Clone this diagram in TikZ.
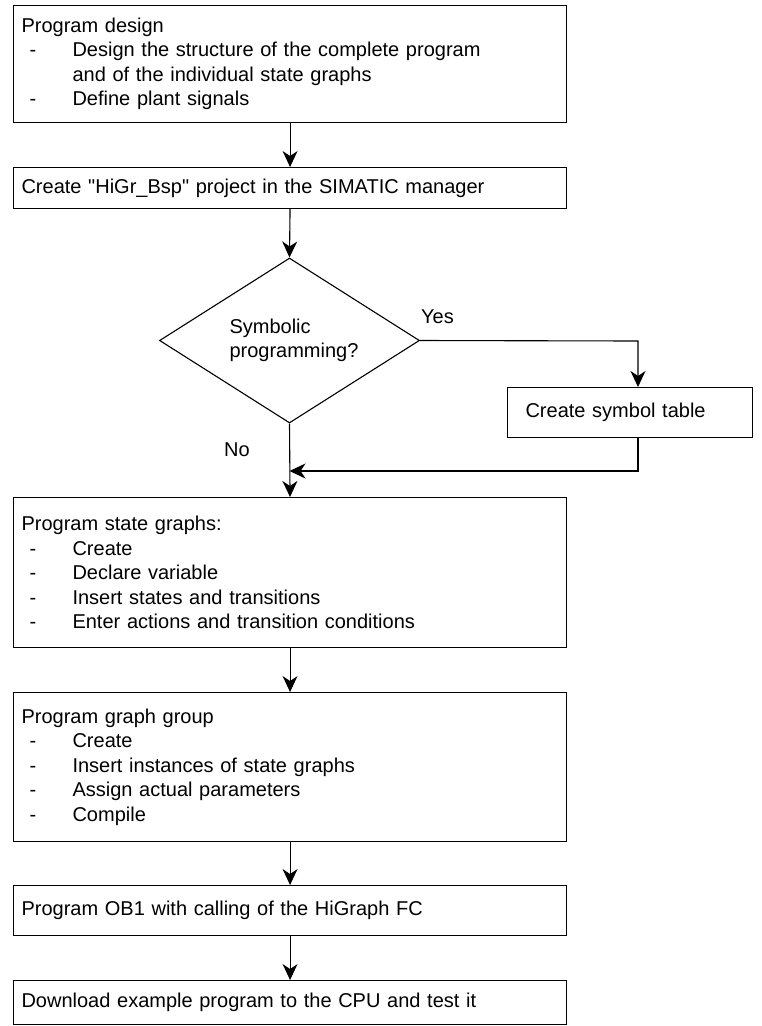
\documentclass[tikz,border=0pt]{standalone}
\usepackage{fontspec}
\setmainfont{Liberation Sans}
\usetikzlibrary{arrows.meta,shapes.geometric}

% dashed list entry: hyphen, then the entry at a fixed indent
\newcommand\dashitem[1]{\hspace*{8pt}\makebox[43pt][l]{-}#1}

\tikzset{
  flow/.style={draw, line width=1.1pt, rectangle, anchor=north west,
    minimum width=553pt, text width=537pt, inner xsep=8pt, inner ysep=0pt,
    align=left, font=\fontsize{20}{24.5}\selectfont},
  decision/.style={draw, line width=1.1pt, diamond, aspect=1.576,
    minimum width=260pt, minimum height=165pt, inner sep=0pt,
    align=left, font=\fontsize{20}{24}\selectfont},
  sidebox/.style={draw, line width=1.1pt, rectangle, anchor=north west,
    minimum width=245pt, text width=209pt, inner xsep=18pt, inner ysep=0pt,
    minimum height=50pt, align=left, font=\fontsize{20}{24}\selectfont},
  lbl/.style={font=\fontsize{20}{24}\selectfont, inner sep=0pt},
  conn/.style={line width=1.1pt, -{Stealth[length=16pt,width=15pt,inset=5pt]}},
}

\begin{document}
\begin{tikzpicture}[x=1pt,y=-1pt]
  \useasboundingbox (0,0) rectangle (761,1026);

  % main column of steps
  \node[flow, minimum height=117pt] (design) at (13,5)
    {Program design\\
     \dashitem{Design the structure of the complete program}\\
     \hspace*{51pt}and of the individual state graphs\\
     \dashitem{Define plant signals}};

  \node[flow, minimum height=41pt] (project) at (13,167)
    {Create \textquotedbl HiGr\_Bsp\textquotedbl{} project in the SIMATIC manager};

  \node[decision] (symq) at (289.5,340.5)
    {\hspace*{9pt}Symbolic\\\hspace*{9pt}programming?};

  \node[sidebox] (symtab) at (507,387) {Create symbol table};

  \node[flow, minimum height=150pt] (graphs) at (13,497)
    {Program state graphs:\\
     \dashitem{Create}\\
     \dashitem{Declare variable}\\
     \dashitem{Insert states and transitions}\\
     \dashitem{Enter actions and transition conditions}};

  \node[flow, minimum height=149pt] (group) at (13,692)
    {Program graph group\\
     \dashitem{Create}\\
     \dashitem{Insert instances of state graphs}\\
     \dashitem{Assign actual parameters}\\
     \dashitem{Compile}};

  \node[flow, minimum height=50pt] (ob1) at (13,885)
    {Program OB1 with calling of the HiGraph FC};

  \node[flow, minimum height=44pt] (download) at (13,980)
    {Download example program to the CPU and test it};

  % branch labels
  \node[lbl] (yes) at (437.5,317) {Yes};
  \node[lbl] (no) at (237,450) {No};

  % routing points of the "Yes" branch
  \coordinate (ycorner) at (638,341);
  \coordinate (rcorner) at (638,471);

  % connectors
  \draw[conn] (design.south) -- (project.north);
  \draw[conn] (project.south) -- (symq.north);
  \draw[conn] (symq.east) -- (ycorner) -- (ycorner |- symtab.north);
  \draw[conn] (ycorner |- symtab.south) -- (rcorner) -- (symq.south |- rcorner);
  \draw[conn] (symq.south) -- (graphs.north);
  \draw[conn] (graphs.south) -- (group.north);
  \draw[conn] (group.south) -- (ob1.north);
  \draw[conn] (ob1.south) -- (download.north);
\end{tikzpicture}
\end{document}
